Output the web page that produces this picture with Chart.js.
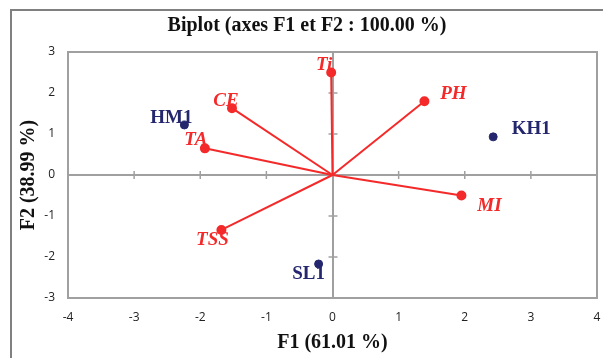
<!DOCTYPE html>
<html>
<head>
<meta charset="utf-8">
<script src="https://cdn.jsdelivr.net/npm/chart.js@4"></script>
<style>
  body { margin: 0; background: #fff; }
  #wrap { position: relative; width: 603px; height: 358px; overflow: hidden; }
  #frame { position: absolute; left: 10px; top: 9px; width: 700px; height: 400px; border: 2px solid #808080; }
  #biplot { position: absolute; left: 0; top: 0; }
</style>
</head>
<body>
<div id="wrap">
  <div id="frame"></div>
  <canvas id="biplot" width="603" height="358"></canvas>
</div>
<script>
// variables (vectors), coordinates on F1 / F2
const varNames = ['Ti', 'CE', 'TA', 'PH', 'MI', 'TSS'];
const varF1 = [-0.02, -1.52, -1.93, 1.39, 1.95, -1.68];
const varF2 = [2.50, 1.63, 0.65, 1.80, -0.50, -1.34];

// observations
const obsNames = ['HM1', 'KH1', 'SL1'];
const obsF1 = [-2.24, 2.43, -0.21];
const obsF2 = [1.22, 0.93, -2.17];

const xTicks = [-4, -3, -2, -1, 0, 1, 2, 3, 4];
const yTicks = [-3, -2, -1, 0, 1, 2, 3];

const RED = '#f42a2a';
const NAVY = '#25276e';
const AXIS = '#a0a0a0';

// where each label sits relative to its point (px)
const labelOffsets = {
    Ti: [-7, -7], CE: [-6, -7], TA: [-9, -8], PH: [29, -7], MI: [28, 11], TSS: [-9, 10],
    HM1: [-13, -7], KH1: [38, -8], SL1: [-10, 10]
};

const datasets = varNames.map((name, i) => ({
    label: name,
    data: [{ x: 0, y: 0 }, { x: varF1[i], y: varF2[i] }],
    showLine: true,
    borderColor: RED,
    backgroundColor: RED,
    borderWidth: 2,
    pointRadius: [0, 4],
    pointHoverRadius: [0, 4],
    names: ['', name],
    italic: true
}));
datasets.push({
    label: 'obs',
    data: obsNames.map((n, i) => ({ x: obsF1[i], y: obsF2[i] })),
    showLine: false,
    borderColor: NAVY,
    backgroundColor: NAVY,
    pointRadius: 4,
    names: obsNames,
    italic: false
});

// plot frame, zero-line tick marks, point labels
const biplotExtras = {
    id: 'biplotExtras',
    beforeDatasetsDraw(chart) {
        const { ctx, chartArea: a, scales: { x, y } } = chart;
        ctx.save();
        ctx.strokeStyle = AXIS;
        ctx.lineWidth = 2;
        ctx.strokeRect(a.left, a.top, a.right - a.left, a.bottom - a.top);
        ctx.lineWidth = 1.5;
        const x0 = x.getPixelForValue(0), y0 = y.getPixelForValue(0);
        xTicks.forEach(v => {
            if (v === 0) return;
            const px = x.getPixelForValue(v);
            ctx.beginPath(); ctx.moveTo(px, y0 - 4); ctx.lineTo(px, y0 + 4); ctx.stroke();
        });
        yTicks.forEach(v => {
            if (v === 0) return;
            const py = y.getPixelForValue(v);
            ctx.beginPath(); ctx.moveTo(x0 - 4, py); ctx.lineTo(x0 + 5, py); ctx.stroke();
        });
        ctx.restore();
    },
    afterDatasetsDraw(chart) {
        const ctx = chart.ctx;
        ctx.save();
        ctx.textAlign = 'center';
        ctx.textBaseline = 'middle';
        chart.data.datasets.forEach((ds, di) => {
            const meta = chart.getDatasetMeta(di);
            ctx.fillStyle = ds.borderColor;
            ctx.font = (ds.italic ? 'italic ' : '') + 'bold 19px "Liberation Serif"';
            meta.data.forEach((pt, j) => {
                const name = ds.names[j];
                if (!name) return;
                const off = labelOffsets[name];
                ctx.fillText(name, pt.x + off[0], pt.y + off[1]);
            });
        });
        ctx.restore();
    }
};

const tickFont = { family: '"Open Sans", sans-serif', size: 12 };

new Chart(document.getElementById('biplot').getContext('2d'), {
    type: 'scatter',
    data: { datasets },
    options: {
        responsive: false,
        animation: false,
        events: [],
        layout: { padding: { left: 12, right: 1, top: 0, bottom: 0 } },
        plugins: {
            legend: { display: false },
            tooltip: { enabled: false },
            title: {
                display: true,
                text: 'Biplot (axes F1 et F2 : 100.00 %)',
                color: '#111',
                font: { family: '"Liberation Serif"', size: 20, weight: 'bold' },
                padding: { top: 14, bottom: 14 }
            }
        },
        scales: {
            x: {
                type: 'linear',
                min: -4, max: 4,
                afterBuildTicks: s => { s.ticks = xTicks.map(v => ({ value: v })); },
                afterFit: s => { s.height = 60; s.paddingLeft = 0; s.paddingRight = 0; },
                ticks: { color: '#222', font: tickFont, padding: 12, maxRotation: 0 },
                grid: {
                    drawTicks: false,
                    color: c => c.tick && c.tick.value === 0 ? AXIS : 'transparent',
                    lineWidth: 2
                },
                border: { display: false },
                title: {
                    display: true,
                    text: 'F1 (61.01 %)',
                    color: '#111',
                    font: { family: '"Liberation Serif"', size: 20, weight: 'bold' },
                    padding: { top: 0, bottom: 3 }
                }
            },
            y: {
                type: 'linear',
                min: -3, max: 3,
                afterBuildTicks: s => { s.ticks = yTicks.map(v => ({ value: v })); },
                afterFit: s => { s.width = 56; s.paddingTop = 0; s.paddingBottom = 0; },
                ticks: { color: '#222', font: tickFont, padding: 13 },
                grid: {
                    drawTicks: false,
                    color: c => c.tick && c.tick.value === 0 ? AXIS : 'transparent',
                    lineWidth: 2
                },
                border: { display: false },
                title: {
                    display: true,
                    text: 'F2 (38.99 %)',
                    color: '#111',
                    font: { family: '"Liberation Serif"', size: 20, weight: 'bold' },
                    padding: { top: 5, bottom: 0 }
                }
            }
        }
    },
    plugins: [biplotExtras]
});
</script>
</body>
</html>
